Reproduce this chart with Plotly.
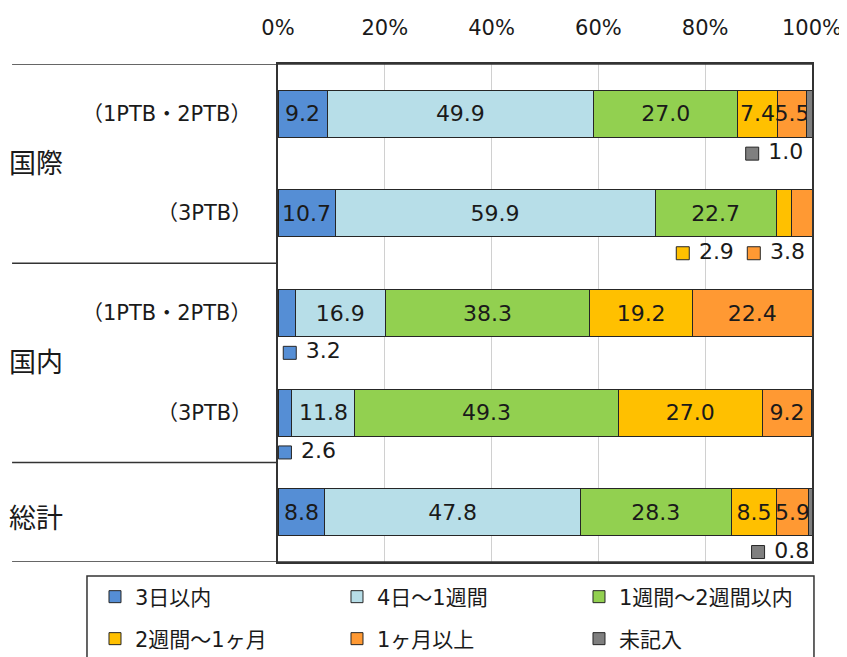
import plotly.graph_objects as go

FONT = "DejaVu Sans, Noto Sans CJK JP, sans-serif"
INK = "#1a1a1a"

# --- data ---
group_labels = ["国際", "国内", "総計"]
row_labels = ["（1PTB・2PTB）", "（3PTB）", "（1PTB・2PTB）", "（3PTB）", ""]
series_names = [
    "3日以内",
    "4日～1週間",
    "1週間～2週間以内",
    "2週間～1ヶ月",
    "1ヶ月以上",
    "未記入",
]
within_3_days = [9.2, 10.7, 3.2, 2.6, 8.8]
days_4_to_week = [49.9, 59.9, 16.9, 11.8, 47.8]
week_1_to_2 = [27.0, 22.7, 38.3, 49.3, 28.3]
weeks_2_to_month = [7.4, 2.9, 19.2, 27.0, 8.5]
over_month = [5.5, 3.8, 22.4, 9.2, 5.9]
no_answer = [1.0, 0.0, 0.0, 0.0, 0.8]
tick_values = [0, 20, 40, 60, 80, 100]

series_values = [
    within_3_days,
    days_4_to_week,
    week_1_to_2,
    weeks_2_to_month,
    over_month,
    no_answer,
]
colors = ["#558ED5", "#B7DEE8", "#92D050", "#FFC000", "#FF9933", "#7F7F7F"]

# rows are plotted on a numeric axis: 0 = top row
rows = list(range(len(row_labels)))

# where the small-value callouts (value < 4) sit, in axis units
callout_x = {(0, 5): 88.8, (1, 3): 75.8, (1, 4): 89.1, (2, 0): 2.2, (3, 0): 1.3, (4, 5): 89.9}
callout_dy = 0.4

fig = go.Figure()

for i, (name, vals) in enumerate(zip(series_names, series_values)):
    fig.add_trace(
        go.Bar(
            name=name,
            x=vals,
            y=rows,
            orientation="h",
            width=0.47,
            marker=dict(color=colors[i], line=dict(color="#262626", width=1)),
            text=[f"{v:.1f}" if v >= 4 else "" for v in vals],
            textposition="inside",
            insidetextanchor="middle",
            textangle=0,
            textfont=dict(size=22, color=INK, family=FONT),
            legend="legend" if i < 3 else "legend2",
            hoverinfo="skip",
        )
    )

# callout labels for the thin segments
for i, vals in enumerate(series_values):
    cx, cy, ct = [], [], []
    for r, v in enumerate(vals):
        if 0 < v < 4:
            cx.append(callout_x[(r, i)])
            cy.append(r + callout_dy)
            ct.append("\u00a0" + f"{v:.1f}")
    if cx:
        fig.add_trace(
            go.Scatter(
                x=cx,
                y=cy,
                mode="markers+text",
                text=ct,
                textposition="middle right",
                textfont=dict(size=22, color=INK, family=FONT),
                marker=dict(
                    symbol="square",
                    size=13,
                    color=colors[i],
                    line=dict(color="#262626", width=1),
                ),
                showlegend=False,
                hoverinfo="skip",
                cliponaxis=False,
            )
        )

# group labels on the left
group_pos = [(0.5, 0), (2.5, 0), (4, -6)]
for label, (y, shift) in zip(group_labels, group_pos):
    fig.add_annotation(
        x=-0.508, xref="paper", xanchor="left",
        y=y, yref="y", yshift=shift,
        text=label, showarrow=False,
        font=dict(size=27, color=INK, family=FONT),
    )
for r, label in zip(rows, row_labels):
    if label:
        fig.add_annotation(
            x=-0.045, xref="paper", xanchor="right",
            y=r, yref="y",
            text=label, showarrow=False,
            font=dict(size=21, color=INK, family=FONT),
        )

# separator lines of the table on the left
for y, x1 in [(-0.5, 1), (1.5, 0), (3.5, 0), (4.5, 1)]:
    fig.add_shape(
        type="line", xref="paper", yref="y",
        x0=-0.498, x1=x1, y0=y, y1=y,
        line=dict(color="#333333", width=1.5),
    )

# legend frame
fig.add_shape(
    type="rect", xref="paper", yref="paper",
    x0=-0.3577, x1=1.0037, y0=-0.0281, y1=-0.30,
    line=dict(color="#333333", width=1.5),
)

legend_style = dict(
    orientation="h",
    xanchor="left",
    yanchor="middle",
    x=-0.3427,
    entrywidth=197,
    entrywidthmode="pixels",
    itemwidth=30,
    font=dict(size=21, color=INK, family=FONT),
    bgcolor="rgba(0,0,0,0)",
    borderwidth=0,
    traceorder="normal",
)

# the page adds an 8px body margin, so the figure is laid out 8px up/left
fig.update_layout(
    barmode="stack",
    width=847,
    height=657,
    autosize=False,
    margin=dict(l=270, r=43, t=56, b=103, autoexpand=False),
    plot_bgcolor="white",
    paper_bgcolor="white",
    font=dict(family=FONT, color=INK),
    uniformtext=dict(minsize=22, mode="show"),
    legend=dict(legend_style, y=-0.0703),
    legend2=dict(legend_style, y=-0.1546),
    xaxis=dict(
        side="top",
        range=[0, 100],
        tickvals=tick_values,
        ticktext=[f"{v}%" for v in tick_values],
        tickfont=dict(size=21, color=INK, family=FONT),
        ticklabelstandoff=19,
        automargin=False,
        showgrid=True,
        gridcolor="#d0d0d0",
        gridwidth=1,
        zeroline=False,
        showline=True,
        linecolor="#333333",
        linewidth=1.5,
        mirror=True,
        fixedrange=True,
    ),
    yaxis=dict(
        range=[4.5, -0.5],
        showticklabels=False,
        automargin=False,
        showgrid=False,
        zeroline=False,
        showline=True,
        linecolor="#333333",
        linewidth=1.5,
        mirror=True,
        fixedrange=True,
    ),
)

fig.write_html("out.html")
